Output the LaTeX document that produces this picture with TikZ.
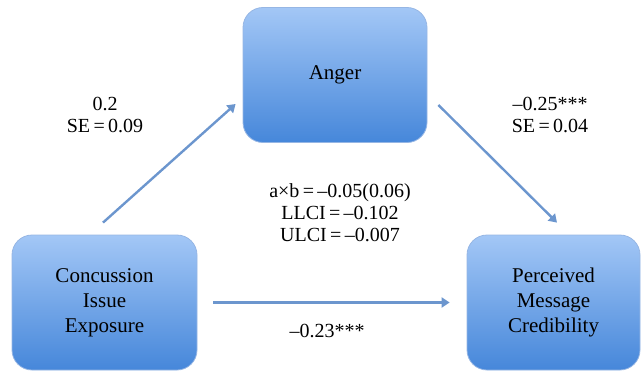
\documentclass[tikz,border=0pt]{standalone}
\usepackage{fontspec}
\setmainfont{Liberation Serif}
\usetikzlibrary{arrows.meta}

\definecolor{boxtop}{RGB}{163,199,246}
\definecolor{boxbot}{RGB}{70,135,218}
\definecolor{boxline}{RGB}{150,182,228}
\definecolor{linkblue}{RGB}{108,150,206}

\begin{document}
\begin{tikzpicture}[
        x=1pt, y=1pt,
        box/.style={rectangle, rounded corners=20pt, draw=boxline, line width=0.8pt,
            top color=boxtop, bottom color=boxbot, minimum height=135pt, align=center,
            font=\fontsize{21}{25}\selectfont},
        lbl/.style={align=center, font=\fontsize{20}{22}\selectfont},
        link/.style={draw=linkblue, line width=2.4pt, -{Triangle[length=8pt,width=10pt]}}
    ]
    \useasboundingbox (0,0) rectangle (642,-372);

    % the three variables
    \node[box, minimum width=184pt] (anger) at (335,-75) {Anger};
    \node[box, minimum width=185pt] (expo) at (104.5,-302.5) {Concussion\\Issue\\Exposure};
    \node[box, minimum width=173pt] (cred) at (553.5,-302.5) {Perceived\\Message\\Credibility};

    % paths
    \draw[link] ([shift={(-1.5,12)}]expo.north) -- ([shift={(-7,-29)}]anger.west);
    \draw[link] ([shift={(11,-30)}]anger.east) -- ([shift={(3.5,12)}]cred.north);
    \draw[link] ([xshift=16pt]expo.east) -- ([xshift=-17pt]cred.west);

    % coefficients
    \node[lbl] (apath) at (105,-115) {0.2\\SE\,=\,0.09};
    \node[lbl] (bpath) at (550,-115) {–0.25***\\SE\,=\,0.04};
    \node[lbl] (ind) at (340,-213) {a×b\,=\,–0.05(0.06)\\LLCI\,=\,–0.102\\ULCI\,=\,–0.007};
    \node[lbl] (cpath) at (327,-331) {–0.23***};

\end{tikzpicture}
\end{document}
